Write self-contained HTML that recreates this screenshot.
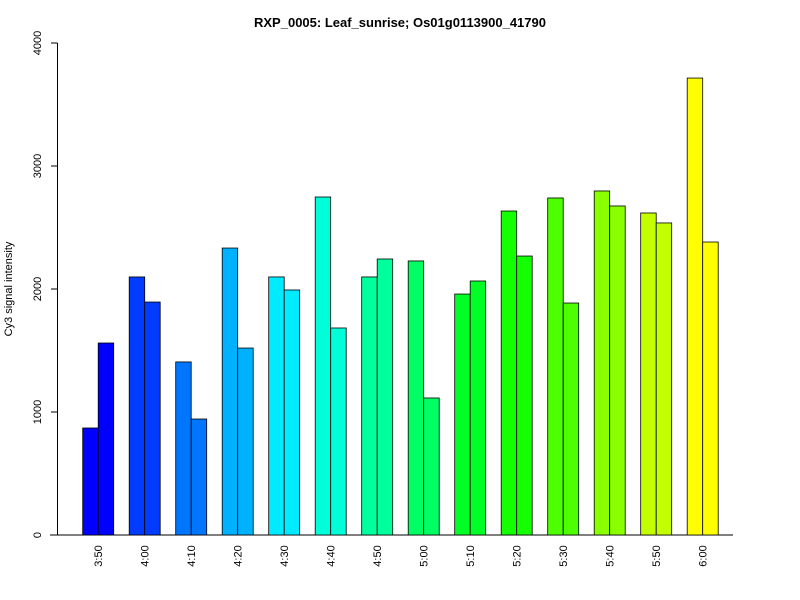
<!DOCTYPE html>
<html><head><meta charset="utf-8"><style>body{margin:0;background:#fff}svg{display:block;font-family:"Liberation Sans",sans-serif}</style></head>
<body>
<svg id="chart" width="800" height="600" xmlns="http://www.w3.org/2000/svg">
<text x="400" y="27" text-anchor="middle" font-size="13" font-weight="bold">RXP_0005: Leaf_sunrise; Os01g0113900_41790</text>
<text transform="translate(12,289) rotate(-90)" text-anchor="middle" font-size="11">Cy3 signal intensity</text>
<g id="axes"></g><g id="bars"></g>
</svg>
<script>
const categories=["3:50","4:00","4:10","4:20","4:30","4:40","4:50","5:00","5:10","5:20","5:30","5:40","5:50","6:00"];
const series1=[870,2098,1407,2333,2098,2748,2098,2228,1959,2634,2740,2797,2618,3715];
const series2=[1561,1894,943,1520,1992,1683,2244,1114,2065,2268,1886,2675,2537,2382];
const yTicks=[0,1000,2000,3000,4000];
const NS="http://www.w3.org/2000/svg";
const y0=535,yTop=43,yMax=4000;
const yScale=v=>y0-(v/yMax)*(y0-yTop);
const bw=15.5,gw=46.5,x0=82.7;
const xGroup=i=>x0+i*gw;
function mk(t,a,p){const e=document.createElementNS(NS,t);for(const k in a)e.setAttribute(k,a[k]);p.appendChild(e);return e;}
const axes=document.getElementById('axes'),bars=document.getElementById('bars');
const n=categories.length;
categories.forEach((c,i)=>{
  const col=`hsl(${240-i*180/(n-1)},100%,50%)`;
  [series1[i],series2[i]].forEach((v,j)=>{
    const r=mk('rect',{x:xGroup(i)+j*bw,y:yScale(v),width:bw,height:y0-yScale(v),fill:col,stroke:'#000','stroke-width':0.8},bars);
    
    
  });
  const t=mk('text',{transform:`translate(${xGroup(i)+bw+4},556) rotate(-90)`,'text-anchor':'middle','font-size':11},axes);
  t.textContent=c;
  
  
});
const yl=mk('line',{x1:57.5,x2:57.5,y1:yScale(yTicks[0]),y2:yScale(yTicks[yTicks.length-1]),stroke:'#000'},axes);


yTicks.forEach(v=>{
  mk('line',{x1:51,x2:57.5,y1:yScale(v),y2:yScale(v),stroke:'#000'},axes);
  const t=mk('text',{transform:`translate(41,${yScale(v)}) rotate(-90)`,'text-anchor':'middle','font-size':11},axes);
  t.textContent=v;
  
  
});
const xl=mk('line',{x1:50,x2:733,y1:y0,y2:y0,stroke:'#000'},axes);


</script>
</body></html>
